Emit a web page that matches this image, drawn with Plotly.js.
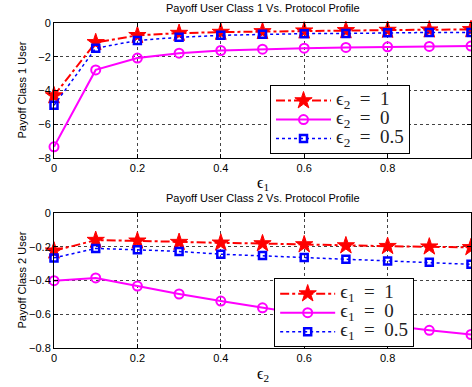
<!DOCTYPE html>
<html><head><meta charset="utf-8">
<script src="https://cdn.plot.ly/plotly-3.0.1.min.js"></script>
<style>body{margin:0;padding:0;background:#fff}#c{width:472px;height:387px}</style>
</head><body><div id="c"></div>
<script>
const xVals = [0,0.1,0.2,0.3,0.4,0.5,0.6,0.7,0.8,0.9,1.0];
// Top panel: Payoff class 1 vs eps1
const top_e2_1   = [-4.30,-1.15,-0.73,-0.60,-0.54,-0.50,-0.46,-0.44,-0.42,-0.40,-0.38];
const top_e2_0   = [-7.34,-2.78,-2.08,-1.79,-1.63,-1.55,-1.49,-1.45,-1.41,-1.39,-1.37];
const top_e2_05  = [-4.88,-1.50,-1.03,-0.85,-0.73,-0.67,-0.63,-0.62,-0.58,-0.56,-0.56];
// Bottom panel: Payoff class 2 vs eps2
const bot_e1_1   = [-0.224,-0.161,-0.165,-0.173,-0.177,-0.181,-0.187,-0.193,-0.197,-0.200,-0.204];
const bot_e1_0   = [-0.401,-0.385,-0.433,-0.480,-0.522,-0.562,-0.600,-0.635,-0.665,-0.695,-0.720];
const bot_e1_05  = [-0.266,-0.210,-0.218,-0.228,-0.244,-0.252,-0.264,-0.274,-0.284,-0.292,-0.304];
const topNames = ['ϵ<sub>2</sub>\u2002=\u20021','ϵ<sub>2</sub>\u2002=\u20020','ϵ<sub>2</sub>\u2002=\u20020.5'];
const botNames = ['ϵ<sub>1</sub>\u2002=\u20021','ϵ<sub>1</sub>\u2002=\u20020','ϵ<sub>1</sub>\u2002=\u20020.5'];
const xTicks = [0,0.2,0.4,0.6,0.8,1];
const xTickText = ['0','0.2','0.4','0.6','0.8','1'];
const topYTicks = [0,-2,-4,-6,-8];
const botYTicks = [0,-0.2,-0.4,-0.6,-0.8];

function big(s){ return '<span style="font-size:19px">' + s + '</span>'; }
function mk(y, i, xa, ya, name, leg){
  const styles = [
    {line:{color:'#ff0000',width:2,dash:'dashdot'},marker:{symbol:'star',size:13,color:'#ff0000',line:{color:'#ff0000',width:1}}},
    {line:{color:'#ff00ff',width:2,dash:'solid'},marker:{symbol:'circle-open',size:9,color:'#ff00ff',line:{color:'#ff00ff',width:2}}},
    {line:{color:'#0000ff',width:1.5,dash:'dot'},marker:{symbol:'square-open',size:7,color:'#0000ff',line:{color:'#0000ff',width:2.5}}}
  ];
  return Object.assign({x:xVals,y:y,xaxis:xa,yaxis:ya,name:big(name),legend:leg,mode:'lines+markers',type:'scatter',cliponaxis:false}, styles[i]);
}
const data = [
  mk(top_e2_1,0,'x','y',topNames[0],'legend'),
  mk(top_e2_0,1,'x','y',topNames[1],'legend'),
  mk(top_e2_05,2,'x','y',topNames[2],'legend'),
  mk(bot_e1_1,0,'x2','y2',botNames[0],'legend2'),
  mk(bot_e1_0,1,'x2','y2',botNames[1],'legend2'),
  mk(bot_e1_05,2,'x2','y2',botNames[2],'legend2')
];
const tickFont = {family:'Liberation Sans, Arial, sans-serif',size:11,color:'#000'};
function xax(anchor){return {anchor:anchor,range:[0,1],tickvals:xTicks,ticktext:xTickText,showgrid:true,gridcolor:'#444',griddash:'dot',gridwidth:1,zeroline:false,showline:true,linecolor:'#000',linewidth:1,mirror:'ticks',ticks:'inside',ticklen:4,tickcolor:'#000',tickfont:tickFont};}
function yax(anchor,range,tv,tt){return {anchor:anchor,range:range,tickvals:tv,ticktext:tt,showgrid:true,gridcolor:'#444',griddash:'dot',gridwidth:1,zeroline:false,showline:true,linecolor:'#000',linewidth:1,mirror:'ticks',ticks:'inside',ticklen:4,tickcolor:'#000',tickfont:tickFont};}
const legFont = {family:'Liberation Serif, DejaVu Serif, serif',size:11,color:'#222'};
const layout = {
  width:472,height:387,
  margin:{l:54,r:1,t:23,b:39},
  paper_bgcolor:'#fff',plot_bgcolor:'#fff',
  showlegend:true,
  xaxis:Object.assign(xax('y'),{domain:[0,1]}),
  yaxis:Object.assign(yax('x',[-8,0],topYTicks,['0','−2','−4','−6','−8']),{domain:[0.5846,1]}),
  xaxis2:Object.assign(xax('y2'),{domain:[0,1]}),
  yaxis2:Object.assign(yax('x2',[-0.8,0],botYTicks,['0','−0.2','−0.4','−0.6','−0.8']),{domain:[0,0.4154]}),
  legend:{x:0.518,y:0.809,xanchor:'left',yanchor:'top',bgcolor:'#fff',bordercolor:'#000',borderwidth:1,font:legFont,itemwidth:55,tracegroupgap:0},
  legend2:{x:0.528,y:0.215,xanchor:'left',yanchor:'top',bgcolor:'#fff',bordercolor:'#000',borderwidth:1,font:legFont,itemwidth:55,tracegroupgap:0},
  annotations:[
    {text:'Payoff User Class 1 Vs. Protocol Profile',xref:'paper',yref:'paper',x:0.5,y:1,yshift:7,yanchor:'bottom',showarrow:false,font:{family:'Liberation Sans, Arial, sans-serif',size:11,color:'#000'}},
    {text:'Payoff User Class 2 Vs. Protocol Profile',xref:'paper',yref:'paper',x:0.5,y:0.4154,yshift:7,yanchor:'bottom',showarrow:false,font:{family:'Liberation Sans, Arial, sans-serif',size:11,color:'#000'}},
    {text:'ϵ<sub>1</sub>',xref:'paper',yref:'paper',x:0.5,y:0.5846,yshift:-14,yanchor:'top',showarrow:false,font:{family:'Liberation Serif, DejaVu Serif, serif',size:16,color:'#000'}},
    {text:'ϵ<sub>2</sub>',xref:'paper',yref:'paper',x:0.5,y:0,yshift:-15,yanchor:'top',showarrow:false,font:{family:'Liberation Serif, DejaVu Serif, serif',size:16,color:'#000'}},
    {text:'Payoff Class 1 User',xref:'paper',yref:'paper',x:0,xshift:-32,xanchor:'center',y:0.7923,yanchor:'middle',textangle:-90,showarrow:false,font:{family:'Liberation Sans, Arial, sans-serif',size:11,color:'#000'}},
    {text:'Payoff Class 2 User',xref:'paper',yref:'paper',x:0,xshift:-32,xanchor:'center',y:0.2077,yanchor:'middle',textangle:-90,showarrow:false,font:{family:'Liberation Sans, Arial, sans-serif',size:11,color:'#000'}}
  ]
};
Plotly.newPlot('c',data,layout,{staticPlot:true,displayModeBar:false});
</script></body></html>
